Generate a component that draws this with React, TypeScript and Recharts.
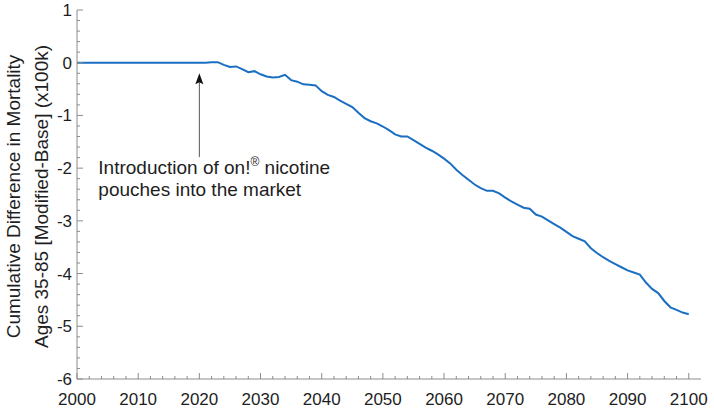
import React from 'react'
import { LineChart, Line, XAxis, YAxis, ReferenceLine } from 'recharts'

// cumulative difference (x100k), one value per year from 2000 to 2100
const startYear = 2000
const mortalityDiff = [
  0, 0, 0, 0, 0, 0, 0, 0, 0, 0,
  0, 0, 0, 0, 0, 0, 0, 0, 0, 0,
  0, 0, 0.01, 0.01, -0.04, -0.08, -0.07, -0.12, -0.18, -0.16,
  -0.22, -0.26, -0.28, -0.27, -0.23, -0.33, -0.36, -0.41, -0.42, -0.43,
  -0.54, -0.61, -0.65, -0.72, -0.78, -0.84, -0.95, -1.05, -1.11, -1.15,
  -1.21, -1.28, -1.36, -1.4, -1.4, -1.47, -1.54, -1.61, -1.67, -1.74,
  -1.82, -1.91, -2.03, -2.13, -2.22, -2.31, -2.38, -2.43, -2.43, -2.48,
  -2.56, -2.63, -2.69, -2.75, -2.77, -2.88, -2.92, -2.99, -3.06, -3.13,
  -3.21, -3.29, -3.34, -3.39, -3.52, -3.61, -3.69, -3.76, -3.82, -3.88,
  -3.94, -3.98, -4.02, -4.17, -4.29, -4.37, -4.52, -4.64, -4.69, -4.74,
  -4.77,
]
const data = mortalityDiff.map((v, i) => ({ year: startYear + i, value: v }))

const introYear = 2020
const noteLines = ['Introduction of on!', 'pouches into the market']
const yTitle = ['Cumulative Difference in Mortality', 'Ages 35-85 [Modified-Base] (x100k)']

const xTicks = Array.from({ length: 51 }, (_, i) => 2000 + i * 2)
const yTicks = Array.from({ length: 36 }, (_, i) => Math.round((-6 + i * 0.2) * 10) / 10)

const frame = '#8c8c8c'
const textColor = '#1e1e1e'
const font = '"Liberation Sans", Arial, sans-serif'

const isMajorY = (v: number) => Math.abs(v - Math.round(v)) < 1e-6

const BottomTick = (props: any) => {
  const { x, y, payload } = props
  const major = payload.value % 10 === 0
  return (
    <g>
      <line x1={x} y1={y} x2={x} y2={y - (major ? 6 : 3)} stroke={frame} />
      {major && (
        <text x={x} y={y + 26} textAnchor="middle" fontSize={17} fill={textColor} fontFamily={font}>
          {payload.value}
        </text>
      )}
    </g>
  )
}

const TopTick = (props: any) => {
  const { x, y, payload } = props
  const major = payload.value % 10 === 0
  return <line x1={x} y1={y} x2={x} y2={y + (major ? 6 : 3)} stroke={frame} />
}

const LeftTick = (props: any) => {
  const { x, y, payload } = props
  const major = isMajorY(payload.value)
  return (
    <g>
      <line x1={x} y1={y} x2={x + (major ? 6 : 3)} y2={y} stroke={frame} />
      {major && (
        <text x={x - 5} y={y + 6} textAnchor="end" fontSize={17} fill={textColor} fontFamily={font}>
          {Math.round(payload.value)}
        </text>
      )}
    </g>
  )
}

const RightTick = (props: any) => {
  const { x, y, payload } = props
  const major = isMajorY(payload.value)
  return <line x1={x} y1={y} x2={x - (major ? 6 : 3)} y2={y} stroke={frame} />
}

const YTitle = (props: any) => {
  const vb = props.viewBox || { x: 0, y: 10, width: 77, height: 369 }
  const cy = vb.y + vb.height / 2 + 2
  const xs = [vb.x + 20, vb.x + 48]
  return (
    <g>
      {yTitle.map((t, i) => (
        <text
          key={i}
          x={xs[i]}
          y={cy}
          transform={`rotate(-90, ${xs[i]}, ${cy})`}
          textAnchor="middle"
          fontSize={19}
          fill={textColor}
          fontFamily={font}
        >
          {t}
        </text>
      ))}
    </g>
  )
}

const ArrowNote = (props: any) => {
  const { x1, y1, y2 } = props
  const tip = Math.min(y1, y2)
  const bottom = Math.max(y1, y2)
  const tx = x1 - 101
  return (
    <g>
      <line x1={x1} y1={bottom} x2={x1} y2={tip + 7} stroke="#555" strokeWidth={1} />
      <path d={`M${x1},${tip} L${x1 - 4},${tip + 11} L${x1},${tip + 9} L${x1 + 4},${tip + 11} Z`} fill="#111" />
      <text x={tx} y={bottom + 17} fontSize={19} fill={textColor} fontFamily={font}>
        {noteLines[0]}
        <tspan fontSize={12} dy={-8}>®</tspan>
        <tspan dy={8}> nicotine</tspan>
      </text>
      <text x={tx} y={bottom + 39} fontSize={19} fill={textColor} fontFamily={font}>
        {noteLines[1]}
      </text>
    </g>
  )
}

export default function App() {
  return (
    <div style={{ position: 'absolute', left: 0, top: 0, background: '#fff' }}>
      <LineChart
        width={714}
        height={409}
        data={data}
        margin={{ top: 10, right: 13, bottom: 0, left: 0 }}
        style={{ fontFamily: font }}
      >
        <XAxis
          dataKey="year"
          type="number"
          domain={[2000, 2102]}
          ticks={xTicks}
          interval={0}
          height={30}
          tickLine={false}
          tickSize={0}
          tickMargin={0}
          axisLine={{ stroke: frame }}
          tick={<BottomTick />}
          allowDataOverflow
        />
        <XAxis
          xAxisId="top"
          orientation="top"
          dataKey="year"
          type="number"
          domain={[2000, 2102]}
          ticks={xTicks}
          interval={0}
          height={0}
          tickLine={false}
          tickSize={0}
          tickMargin={0}
          axisLine={{ stroke: frame }}
          tick={<TopTick />}
          allowDataOverflow
        />
        <YAxis
          yAxisId="left"
          type="number"
          domain={[-6, 1]}
          ticks={yTicks}
          interval={0}
          width={77}
          tickLine={false}
          tickSize={0}
          tickMargin={0}
          axisLine={{ stroke: frame }}
          tick={<LeftTick />}
          label={<YTitle />}
          allowDataOverflow
        />
        <YAxis
          yAxisId="right"
          orientation="right"
          type="number"
          domain={[-6, 1]}
          ticks={yTicks}
          interval={0}
          width={0}
          tickLine={false}
          tickSize={0}
          tickMargin={0}
          axisLine={{ stroke: frame }}
          tick={<RightTick />}
          allowDataOverflow
        />
        <ReferenceLine
          yAxisId="left"
          segment={[
            { x: introYear, y: -1.79 },
            { x: introYear, y: -0.2 },
          ]}
          shape={(p: any) => <ArrowNote {...p} />}
        />
        <Line
          yAxisId="left"
          type="linear"
          dataKey="value"
          stroke="#1b6fc3"
          strokeWidth={2}
          dot={false}
          isAnimationActive={false}
        />
      </LineChart>
    </div>
  )
}
